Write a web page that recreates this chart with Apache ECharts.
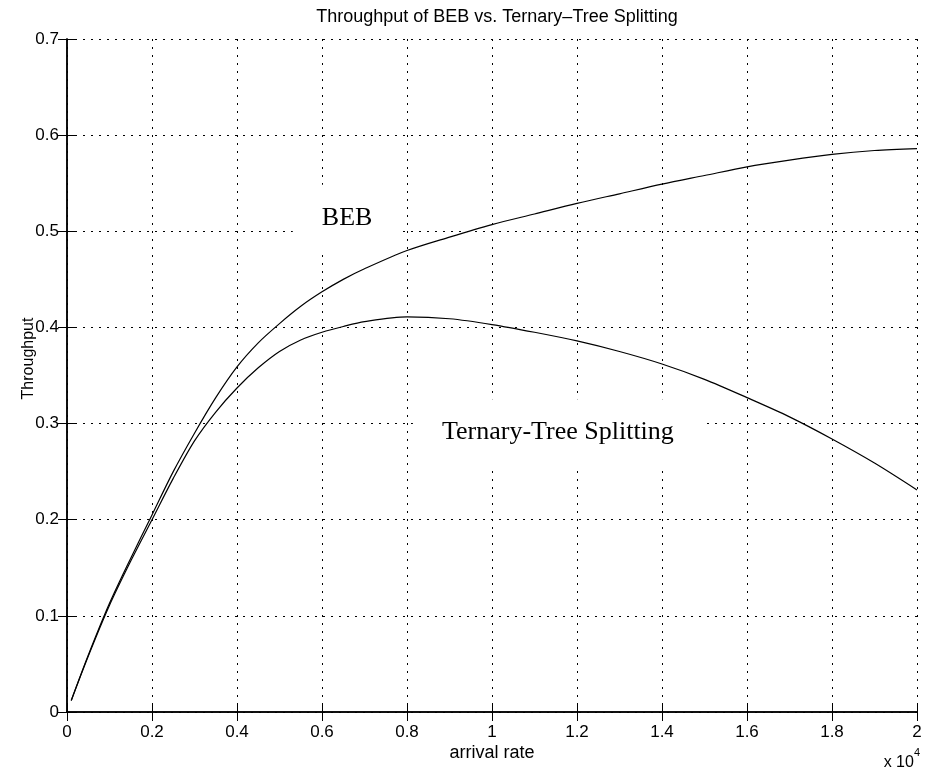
<!DOCTYPE html>
<html>
<head>
<meta charset="utf-8">
<script src="https://cdn.jsdelivr.net/npm/echarts@6/dist/echarts.min.js"></script>
<style>
  html, body { margin: 0; padding: 0; background: #fff; }
  #chart { width: 927px; height: 773px; }
</style>
</head>
<body>
<div id="chart"></div>
<script>
// arrival rate, in units of 10^4
const arrivalRate = [0.01, 0.05, 0.1, 0.15, 0.2, 0.25, 0.3, 0.35, 0.4, 0.45, 0.5, 0.55, 0.6, 0.65, 0.7, 0.8, 0.9, 1.0,
  1.1, 1.2, 1.3, 1.4, 1.5, 1.6, 1.7, 1.8, 1.9, 2.0];
const bebThroughput = [0.012, 0.059, 0.113, 0.160, 0.205, 0.250, 0.290, 0.327, 0.359, 0.384, 0.404, 0.422, 0.437, 0.450, 0.461, 0.480, 0.494, 0.507,
  0.518, 0.529, 0.539, 0.549, 0.558, 0.567, 0.574, 0.580, 0.584, 0.586];
const ternaryThroughput = [0.012, 0.058, 0.111, 0.157, 0.200, 0.243, 0.282, 0.312, 0.337, 0.358, 0.375, 0.387, 0.395, 0.401, 0.406, 0.411, 0.409, 0.403,
  0.395, 0.386, 0.375, 0.362, 0.346, 0.327, 0.307, 0.284, 0.259, 0.231];
const xTicks = { min: 0, max: 2, interval: 0.2 };
const yTicks = { min: 0, max: 0.7, interval: 0.1 };

function pairs(xs, ys) {
  let out = [];
  for (let i = 0; i < xs.length; i++) {
    out.push([xs[i], ys[i]]);
  }
  return out;
}

const gridLine = {
  show: true,
  lineStyle: { color: '#000', type: [2, 6], width: 1 }
};
const tickFont = { fontFamily: 'Liberation Sans', fontSize: 17, color: '#000' };

function curveLabel(text, coord, pad) {
  return {
    symbol: 'circle',
    symbolSize: 0,
    silent: true,
    z: 1,
    data: [{
      coord: coord,
      label: {
        show: true,
        position: 'inside',
        formatter: text,
        fontFamily: 'Liberation Serif',
        fontSize: 26,
        color: '#000',
        backgroundColor: '#fff',
        padding: pad
      }
    }]
  };
}

let option = {
  animation: false,
  backgroundColor: '#fff',
  title: {
    text: 'Throughput of BEB vs. Ternary\u2013Tree Splitting',
    left: 492,
    top: 3,
    textAlign: 'center',
    textStyle: { fontFamily: 'Liberation Sans', fontSize: 18, fontWeight: 'normal', color: '#000' }
  },
  grid: { left: 67, right: 10, top: 39, bottom: 61 },
  xAxis: [{
    type: 'value',
    min: xTicks.min, max: xTicks.max, interval: xTicks.interval,
    name: 'arrival rate',
    nameLocation: 'middle',
    nameGap: 32,
    nameMoveOverlap: false,
    nameTextStyle: { fontFamily: 'Liberation Sans', fontSize: 18, color: '#000' },
    axisLine: { show: true, lineStyle: { color: '#000', width: 1.5 } },
    axisTick: { show: true, inside: true, length: 9, lineStyle: { color: '#000' } },
    axisLabel: Object.assign({ margin: 12 }, tickFont),
    splitLine: gridLine
  }, {
    type: 'value',
    position: 'top',
    min: xTicks.min, max: xTicks.max, interval: xTicks.interval,
    axisLine: { show: true, lineStyle: { color: '#000', width: 1.5 } },
    axisTick: { show: true, inside: true, length: 9, lineStyle: { color: '#000' } },
    axisLabel: { show: false },
    splitLine: { show: false }
  }],
  yAxis: [{
    type: 'value',
    min: yTicks.min, max: yTicks.max, interval: yTicks.interval,
    name: 'Throughput',
    nameLocation: 'middle',
    nameGap: 30,
    nameMoveOverlap: false,
    nameTextStyle: { fontFamily: 'Liberation Sans', fontSize: 16, color: '#000', padding: [0, 0, 0, 34] },
    axisLine: { show: true, lineStyle: { color: '#000', width: 1.5 } },
    axisTick: { show: true, inside: true, length: 9, lineStyle: { color: '#000' } },
    axisLabel: Object.assign({ margin: 8 }, tickFont),
    splitLine: gridLine
  }, {
    type: 'value',
    position: 'right',
    min: yTicks.min, max: yTicks.max, interval: yTicks.interval,
    axisLine: { show: true, lineStyle: { color: '#000', width: 1.5 } },
    axisTick: { show: true, inside: true, length: 9, lineStyle: { color: '#000' } },
    axisLabel: { show: false },
    splitLine: { show: false }
  }],
  graphic: [{
    type: 'text',
    right: 7,
    top: 747,
    style: {
      text: '{a|x 10}{b|4}',
      rich: {
        a: { fontFamily: 'Liberation Sans', fontSize: 16, color: '#000', padding: [8, 0, 0, 0] },
        b: { fontFamily: 'Liberation Sans', fontSize: 11, color: '#000', verticalAlign: 'top' }
      }
    }
  }],
  series: [{
    name: 'BEB',
    type: 'line',
    data: pairs(arrivalRate, bebThroughput),
    smooth: 0.3,
    showSymbol: false,
    lineStyle: { color: '#000', width: 1.2 },
    z: 3,
    markPoint: curveLabel('BEB', [0.659, 0.5135], [23, 29, 18, 29])
  }, {
    name: 'Ternary-Tree Splitting',
    type: 'line',
    data: pairs(arrivalRate, ternaryThroughput),
    smooth: 0.3,
    showSymbol: false,
    lineStyle: { color: '#000', width: 1.2 },
    z: 3,
    markPoint: curveLabel('Ternary-Tree Splitting', [1.155, 0.291], [20, 29, 20, 29])
  }]
};

const myChart = echarts.init(document.getElementById('chart'));
myChart.setOption(option);
</script>
</body>
</html>
